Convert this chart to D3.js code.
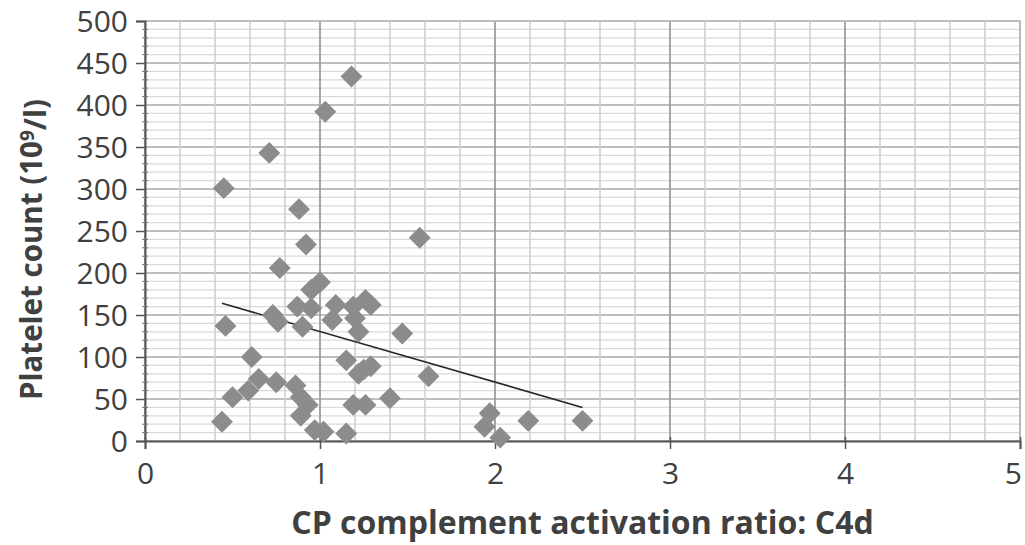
<!DOCTYPE html>
<html>
<head>
<meta charset="utf-8">
<script src="https://cdn.jsdelivr.net/npm/d3@7"></script>
<style>
  body { margin: 0; background: #fff; }
  svg { display: block; }
</style>
</head>
<body>
<svg id="chart" width="1025" height="545"></svg>
<script>
const svg = d3.select("#chart")

// C4d ratio vs platelet count
const c4d = [0.45, 0.46, 0.44, 0.50, 0.59, 0.61, 0.65, 0.71, 0.73, 0.76,
             0.75, 0.77, 0.86, 0.87, 0.88, 0.89, 0.89, 0.90, 0.92, 0.93,
             0.95, 0.95, 0.97, 1.00, 1.02, 1.03, 1.09, 1.07, 1.15, 1.15,
             1.18, 1.19, 1.19, 1.20, 1.22, 1.22, 1.25, 1.26, 1.29, 1.29,
             1.26, 1.40, 1.47, 1.57, 1.62, 1.94, 1.97, 2.03, 2.19, 2.50]
const platelets = [301, 137, 23, 52, 60, 100, 74, 343, 150, 142,
                   70, 206, 66, 160, 276, 52, 30, 136, 234, 43,
                   158, 180, 13, 189, 11, 392, 162, 144, 96, 9,
                   434, 43, 160, 146, 130, 80, 85, 168, 162, 89,
                   43, 51, 128, 242, 77, 17, 33, 4, 24, 24]

// linear trend line end points
const trendX = [0.44, 2.50]
const trendY = [164, 40]

const xTicks = [0, 1, 2, 3, 4, 5]
const yTicks = [0, 50, 100, 150, 200, 250, 300, 350, 400, 450, 500]

const pLeft = 145, pRight = 1020, pTop = 21, pBottom = 441

const x = d3.scaleLinear().domain([0, 5]).range([pLeft, pRight])
const y = d3.scaleLinear().domain([0, 500]).range([pBottom, pTop])

const textColor = "#404040"
const font = "'Open Sans', sans-serif"

// grid
const grid = svg.append("g")
grid.selectAll(".hmin").data(d3.range(0, 501, 10))
  .enter().append("line")
  .attr("x1", pLeft).attr("x2", pRight)
  .attr("y1", d => y(d)).attr("y2", d => y(d))
  .attr("stroke", d => d % 50 == 0 ? "#a8a8a8" : "#d9d9d9")
  .attr("stroke-width", d => d % 50 == 0 ? 1.6 : 1.3)
grid.selectAll(".vmin").data(d3.range(0, 26).map(i => i / 5))
  .enter().append("line")
  .attr("y1", pTop).attr("y2", pBottom)
  .attr("x1", d => x(d)).attr("x2", d => x(d))
  .attr("stroke", (d, i) => i % 5 == 0 ? "#9e9e9e" : "#d0d0d0")
  .attr("stroke-width", (d, i) => i % 5 == 0 ? 1.8 : 1.6)

// frame on top and right
svg.append("path")
  .attr("d", `M${pLeft},${pTop}H${pRight}V${pBottom}`)
  .attr("fill", "none").attr("stroke", "#bdbdbd").attr("stroke-width", 1.6)

// y axis
const yAxis = svg.append("g").attr("transform", `translate(${pLeft},0)`)
  .call(d3.axisLeft(y).tickValues(yTicks).tickSize(9).tickPadding(8))
yAxis.select(".domain").attr("stroke", "#555").attr("stroke-width", 2)
yAxis.selectAll(".tick line").attr("stroke", "#555").attr("stroke-width", 1.5)
yAxis.selectAll("text")
  .attr("fill", textColor).style("font-family", font).style("font-size", "30px")
  .attr("dy", "0.36em")
yAxis.selectAll(".minor").data(d3.range(0, 501, 10).filter(d => d % 50 != 0))
  .enter().append("line")
  .attr("x1", -3).attr("x2", 3)
  .attr("y1", d => y(d)).attr("y2", d => y(d))
  .attr("stroke", "#777").attr("stroke-width", 1)

// x axis
const xAxis = svg.append("g").attr("transform", `translate(0,${pBottom})`)
  .call(d3.axisBottom(x).tickValues(xTicks).tickFormat(d3.format("d")).tickSize(8).tickPadding(14))
xAxis.select(".domain").attr("stroke", "#555").attr("stroke-width", 2)
xAxis.selectAll(".tick line").attr("stroke", "#555").attr("stroke-width", 1.5)
  .attr("y1", -4)
xAxis.selectAll("text")
  .attr("fill", textColor).style("font-family", font).style("font-size", "30px")
xAxis.selectAll(".tick:last-of-type text").attr("text-anchor", "end").attr("dx", "0.05em")

// trend line
svg.append("line")
  .attr("x1", x(trendX[0])).attr("y1", y(trendY[0]))
  .attr("x2", x(trendX[1])).attr("y2", y(trendY[1]))
  .attr("stroke", "#262626").attr("stroke-width", 1.6)

// points as diamonds
const pts = c4d.map((v, i) => [v, platelets[i]])
const diamond = d3.symbol().type(d3.symbolSquare).size(240)
svg.append("g").selectAll("path").data(pts)
  .enter().append("path")
  .attr("d", diamond)
  .attr("transform", d => `translate(${x(d[0])},${y(d[1])}) rotate(45)`)
  .attr("fill", "#8c8c8c")

// titles
svg.append("text")
  .attr("x", (pLeft + pRight) / 2).attr("y", 534)
  .attr("text-anchor", "middle")
  .attr("fill", textColor)
  .style("font-family", font).style("font-size", "32px").style("font-weight", "bold")
  .text("CP complement activation ratio: C4d")

const yt = svg.append("text")
  .attr("transform", "translate(42,400) rotate(-90)")
  .attr("text-anchor", "start")
  .attr("fill", textColor)
  .style("font-family", font).style("font-size", "29.5px").style("font-weight", "bold")
yt.append("tspan").text("Platelet count (10")
yt.append("tspan").attr("dy", "-0.4em").style("font-size", "19px").text("9")
yt.append("tspan").attr("dy", "0.4em").text("/l)")
</script>
</body>
</html>
